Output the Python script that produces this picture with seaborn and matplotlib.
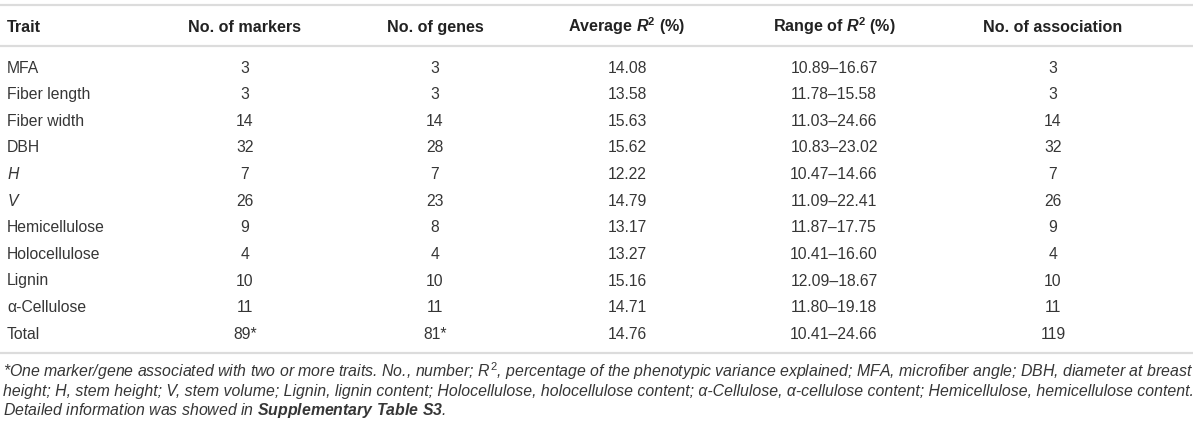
import matplotlib
matplotlib.use("Agg")
import matplotlib.pyplot as plt
import seaborn as sns

# table data
traits = ["MFA", "Fiber length", "Fiber width", "DBH", "$\\it{H}$", "$\\it{V}$",
          "Hemicellulose", "Holocellulose", "Lignin", "\u03b1-Cellulose", "Total"]
markers = ["3", "3", "14", "32", "7", "26", "9", "4", "10", "11", "89*"]
genes = ["3", "3", "14", "28", "7", "23", "8", "4", "10", "11", "81*"]
avg_r2 = ["14.08", "13.58", "15.63", "15.62", "12.22", "14.79", "13.17", "13.27", "15.16", "14.71", "14.76"]
range_r2 = ["10.89\u201316.67", "11.78\u201315.58", "11.03\u201324.66", "10.83\u201323.02", "10.47\u201314.66",
            "11.09\u201322.41", "11.87\u201317.75", "10.41\u201316.60", "12.09\u201318.67", "11.80\u201319.18",
            "10.41\u201324.66"]
associations = ["3", "3", "14", "32", "7", "26", "9", "4", "10", "11", "119"]

headers = ["Trait", "No. of markers", "No. of genes",
           "Average $\\mathbfit{R}^{\\mathbf{2}}$ (%)",
           "Range of $\\mathbfit{R}^{\\mathbf{2}}$ (%)",
           "No. of association"]

footnote = [
    "*One marker/gene associated with two or more traits. No., number; $R^{2}$, percentage of the phenotypic "
    "variance explained; MFA, microfiber angle; DBH, diameter at breast",
    "height; H, stem height; V, stem volume; Lignin, lignin content; Holocellulose, holocellulose content; "
    "\u03b1-Cellulose, \u03b1-cellulose content; Hemicellulose, hemicellulose content.",
    "Detailed information was showed in $\\mathbfit{Supplementary\\ Table\\ S3}$.",
]

sns.set_theme(style="white")
plt.rcParams["font.family"] = ["Liberation Sans", "DejaVu Sans"]
plt.rcParams["mathtext.fontset"] = "custom"
plt.rcParams["mathtext.rm"] = "Liberation Sans"
plt.rcParams["mathtext.it"] = "Liberation Sans:italic"
plt.rcParams["mathtext.bf"] = "Liberation Sans:bold"
plt.rcParams["mathtext.bfit"] = "Liberation Sans:bold:italic"

fig = plt.figure(figsize=(12, 4.29), dpi=100)
ax = fig.add_axes([0, 0, 1, 1])
ax.set_xlim(0, 1200)
ax.set_ylim(429, 0)
ax.axis("off")

text_col = "#363636"
rule_col = "#dcdcdc"
col_x = [7, 245, 435, 627, 834, 1053]
header_y = 26
row_y0, row_step = 67, 26.6
half_cap = 5.7

# rules
for y in [5, 46, 353]:
    ax.plot([0, 1193], [y, y], color=rule_col, lw=1.6, solid_capstyle="butt")

# header
for i, h in enumerate(headers):
    ax.text(col_x[i], header_y + half_cap, h, ha="left" if i == 0 else "center",
            va="baseline", fontsize=11.6, fontweight="bold", color="#222222")

# body
columns = [traits, markers, genes, avg_r2, range_r2, associations]
for r in range(len(traits)):
    y = row_y0 + r * row_step + half_cap
    for c, col in enumerate(columns):
        ax.text(col_x[c], y, col[r], ha="left" if c == 0 else "center",
                va="baseline", fontsize=11.3, color=text_col)

# footnote
for k, line in enumerate(footnote):
    ax.text(3, 372 + k * 18.5 + 5.5, line, ha="left", va="baseline",
            fontsize=11.4, style="italic", color=text_col)

fig.savefig("out.png", dpi=100)
